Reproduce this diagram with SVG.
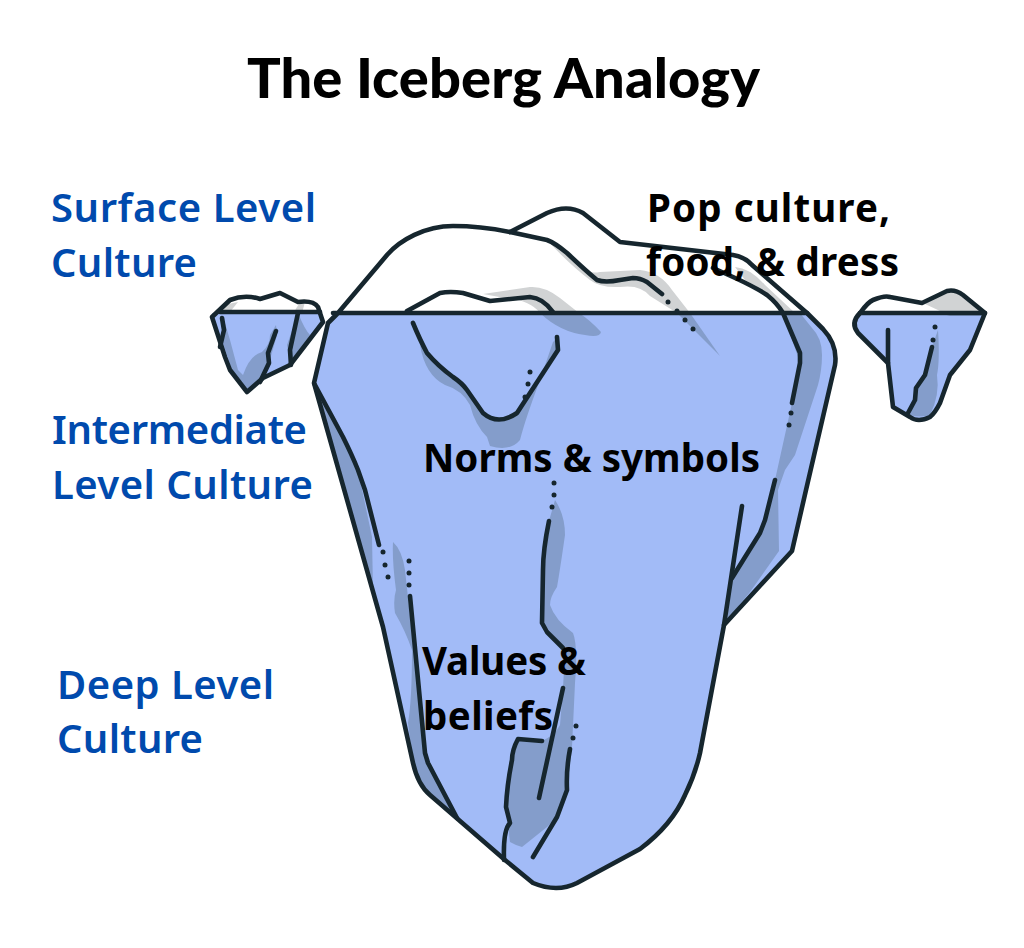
<svg xmlns="http://www.w3.org/2000/svg" width="1024" height="948" viewBox="0 0 1024 948">
<style>
.ln{fill:none;stroke:#16262e;stroke-width:4.6;stroke-linecap:round;stroke-linejoin:round}
.wt{fill:#fff}
.ice{fill:#a2bbf7}
.sh{fill:#849dcb}
.gr{fill:#d1d3d4}
.dot{fill:#16262e}
.b{font-family:"Noto Sans","Open Sans",sans-serif;font-weight:600;font-size:40px;fill:#004aad}
.k{font-family:"Noto Sans","Open Sans",sans-serif;font-weight:700;font-size:38.5px;fill:#000}
.t{font-family:"Lato","Noto Sans",sans-serif;font-weight:900;font-size:56px;fill:#000}
</style>
<rect width="1024" height="948" fill="#fff"/>
<g id="main-iceberg">
<path class="wt" d="M338 313L387 255C400 240 425 226 453 226Q480 226 510 232L547 213Q567 204 583 213L620 242L733 255Q745 257 752 265L807 313Z"/>
<path class="gr" d="M547 240Q565 245 575 262Q585 275 600 272L640 270Q660 272 672 290L690 313H677L650 296Q640 284 620 287Q600 288 590 280Q570 265 547 240Z"/>
<path class="gr" d="M483 294L530 287Q545 286 560 298L579 313H540Q530 300 505 298Z"/>
<path class="gr" d="M735 267Q750 268 765 285L795 313H783Q775 295 745 280Z"/>
<path class="ice" d="M333 313H807L823 329Q838 345 835 365L806 490L792 551L724 625L700 753Q695 775 685 795Q672 825 640 849L577 883Q557 893 533 883L505 860L430 795Q418 785 413 763L383 627L314 383L328 323Z"/>
<path class="sh" d="M677 313H690L720 356Z"/>
<path class="sh" d="M540 313H579Q590 320 601 332Q600 338 585 335Q560 332 540 313Z"/>
<path class="sh" d="M783 313H800L812 328Q822 338 822 355Q822 370 818 385L795 455L785 470L778 490L779 551L750 592L727 620L732 578L760 533L775 480L792 403L800 363Z"/>
<path class="sh" d="M420 345Q435 365 453 377Q467 390 483 415Q498 425 517 413Q530 395 558 350V337L553 342L540 380Q525 420 520 440Q510 452 490 446Q488 440 487 437Q475 425 470 405Q462 390 445 385Q425 375 420 345Z"/>
<path class="sh" d="M317 388Q345 430 358 470L372 537L373 590Z"/>
<path class="sh" d="M393 542Q402 550 405 570L425 753L428 763L457 818L430 795Q418 785 413 763L408 723Q412 700 412 650Q405 630 395 613Q393 600 396 590Q392 560 393 542Z"/>
<path class="sh" d="M555 500Q565 515 565 535Q560 570 557 587Q550 597 550 605Q555 620 573 633Q578 645 575 683L572 747L567 790L557 817L547 827L522 847Q515 845 510 842Q508 830 510 823L506 807L512 760L518 739L542 741Q555 735 560 725L563 688L565 650Q550 630 542 623L543 570L549 521Z"/>
<path class="ln" d="M333 313H807L823 329Q838 345 835 365L806 490L792 551L724 625L700 753Q695 775 685 795Q672 825 640 849L577 883Q557 893 533 883L505 860L430 795Q418 785 413 763L383 627L314 383L328 323L338 313L387 255C400 240 425 226 453 226Q480 226 510 232L547 240Q555 243 567 253Q585 270 597 280Q605 283 620 280L633 278Q640 278 647 282L662 294"/>
<path class="ln" d="M510 232L547 213Q567 204 583 213L620 242L733 255Q745 257 752 265L807 313"/>
<path class="ln" d="M713 268L733 277Q755 287 767 295Q777 303 783 313L800 353V363L792 403"/>
<path class="ln" d="M407 311L440 293Q450 291 463 293L490 301L530 297Q543 298 553 312"/>
<path class="ln" d="M413 323Q420 340 427 353Q438 366 453 377Q462 383 467 390L483 413Q498 426 517 413L558 350L557 337"/>
<path class="ln" d="M315 385L343 437Q352 455 358 470L365 490L379 545"/>
<path class="ln" d="M410 596L425 753L428 763L457 818"/>
<path class="ln" d="M549 521Q543 550 543 570L542 623L547 632L563 648"/>
<path class="ln" d="M563 688L539 798"/>
<path class="ln" d="M542 741L518 739Q512 750 512 760Q507 785 506 807L510 823Q503 830 504 860"/>
<path class="ln" d="M570 749Q566 770 567 790L557 817L533 857"/>
<path class="ln" d="M742 506L724 625"/>
<path class="ln" d="M775 480L765 520L760 533L732 578"/>
<g class="dot">
<circle cx="668" cy="302" r="2.5"/><circle cx="677" cy="311" r="2.5"/><circle cx="685" cy="320" r="2.5"/><circle cx="693" cy="329" r="2.5"/>
<circle cx="791" cy="413" r="2.5"/><circle cx="789" cy="425" r="2.5"/>
<circle cx="530" cy="372" r="2.5"/><circle cx="528" cy="384" r="2.5"/><circle cx="525" cy="397" r="2.5"/>
<circle cx="383" cy="552" r="2.5"/><circle cx="385" cy="565" r="2.5"/><circle cx="388" cy="577" r="2.5"/>
<circle cx="409" cy="561" r="2.5"/><circle cx="409" cy="573" r="2.5"/><circle cx="409" cy="585" r="2.5"/>
<circle cx="554" cy="483" r="2.5"/><circle cx="554" cy="495" r="2.5"/><circle cx="552" cy="507" r="2.5"/>
<circle cx="576" cy="726" r="2.5"/><circle cx="573" cy="738" r="2.5"/>
</g>
</g>
<g id="left-iceberg">
<path class="wt" d="M212 317L230 300Q243 294 260 299L280 293L298 302L307 301Q318 301 323 315L320 313Z"/>
<path class="gr" d="M295 313Q296 303 305 302L302 313Z"/>
<path class="gr" d="M230 312L238 302L228 304L220 312Z"/>
<path class="ice" d="M212 313H320L323 322L290 365L263 378L247 392L230 370L225 357Z"/>
<path class="sh" d="M224 320L230 340L238 370L243 375Q250 355 262 352Q270 345 270 335L276 325L277 335L269 363L260 382L247 392L233 373L222 340Z"/>
<path class="sh" d="M298 313Q305 330 310 335L290 362L287 345Z"/>
<path class="ln" d="M212 317L225 357L230 370L247 392L263 378L290 365L323 322L318 307Q313 300 298 302L280 293L260 299Q245 294 230 300L212 317Z"/>
<path class="ln" d="M220 312H320"/>
<path class="ln" d="M222 318L224 330L220 347"/>
<path class="ln" d="M276 331L268 353L269 363L260 382"/>
<path class="ln" d="M298 313L290 350L291 365"/>
</g>
<g id="right-iceberg">
<path class="wt" d="M858 313L873 300Q885 295 890 297L922 303L947 291Q955 289 963 295L985 313Z"/>
<path class="gr" d="M925 304L947 291Q955 290 963 295L983 311L940 311Z"/>
<path class="ice" d="M860 313H985L970 350L950 375L940 403L930 417Q918 423 910 417L893 407L888 363L858 333Q850 325 860 313Z"/>
<path class="sh" d="M940 313L985 313L983 316L950 316Z"/>
<path class="sh" d="M938 330Q940 360 937 375Q940 395 930 415Q920 418 910 415L915 400L916 388L925 375L932 347Z"/>
<path class="ln" d="M985 313L970 350L950 375L940 403Q935 413 930 417Q918 423 910 417L893 407L888 363L858 333Q850 323 860 313Q868 302 873 300Q885 295 890 297L922 303L947 291Q955 289 963 295L985 313Z"/>
<path class="ln" d="M860 313H985"/>
<path class="ln" d="M888 330V363"/>
<path class="ln" d="M932 347L925 375L916 388L915 400L908 413"/>
<g class="dot"><circle cx="935" cy="327" r="2.5"/><circle cx="933" cy="340" r="2.5"/></g>
</g>
<g id="labels">
<text class="t" x="247" y="98" textLength="513">The Iceberg Analogy</text>
<text class="b" x="51" y="222" textLength="265">Surface Level</text>
<text class="b" x="51" y="277" textLength="146">Culture</text>
<text class="b" x="52" y="444" textLength="255">Intermediate</text>
<text class="b" x="52" y="499" textLength="261">Level Culture</text>
<text class="b" x="57" y="699" textLength="217">Deep Level</text>
<text class="b" x="57" y="753" textLength="146">Culture</text>
<text class="k" x="647" y="222" textLength="243">Pop culture,</text>
<text class="k" x="646" y="276" textLength="253">food, &amp; dress</text>
<text class="k" x="423" y="472" textLength="337">Norms &amp; symbols</text>
<text class="k" x="422" y="675" textLength="164">Values &amp;</text>
<text class="k" x="423" y="730" textLength="130">beliefs</text>
</g>
</svg>
